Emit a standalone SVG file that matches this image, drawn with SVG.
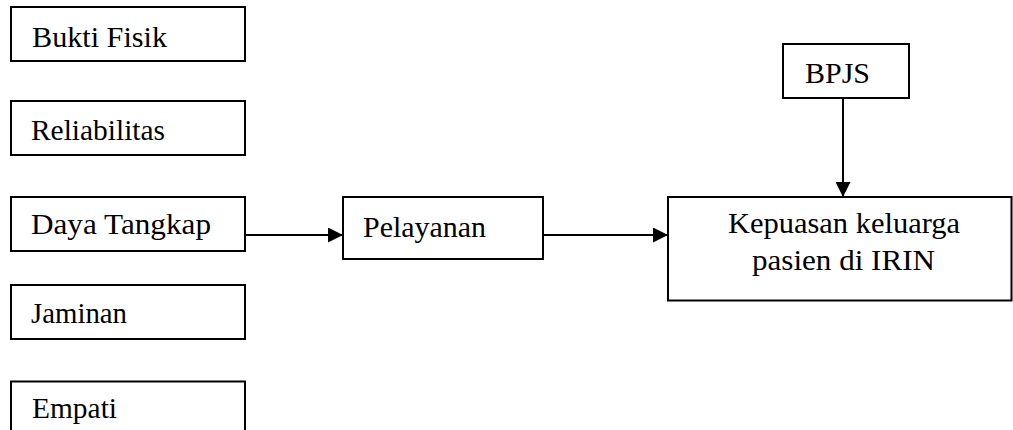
<svg xmlns="http://www.w3.org/2000/svg" width="1013" height="430" viewBox="0 0 1013 430">
<style>
.box{fill:#fff;stroke:#000;stroke-width:2}
.t{font-family:'Liberation Serif','Times New Roman',serif;font-size:30px;fill:#000}
.c{stroke:#000;stroke-width:2;fill:none}
</style>
<defs>
<marker id="ah" markerUnits="userSpaceOnUse" markerWidth="15" markerHeight="15" refX="14" refY="7" orient="auto" viewBox="0 0 14 14">
<path d="M0,0 L14,7 L0,14 Z" fill="#000"/>
</marker>
</defs>
<rect width="1013" height="430" fill="#fff"/>
<g id="bukti-fisik"><rect class="box" x="11" y="7" width="234" height="54"/><text class="t" x="32" y="47" textLength="135" lengthAdjust="spacingAndGlyphs">Bukti  Fisik</text></g>
<g id="reliabilitas"><rect class="box" x="11" y="101" width="234" height="54"/><text class="t" x="31" y="140" textLength="134" lengthAdjust="spacingAndGlyphs">Reliabilitas</text></g>
<g id="daya-tangkap"><rect class="box" x="11" y="197" width="234" height="54"/><text class="t" x="31" y="234" textLength="180" lengthAdjust="spacingAndGlyphs">Daya Tangkap</text></g>
<g id="jaminan"><rect class="box" x="11" y="285" width="234" height="54"/><text class="t" x="31" y="322.5" textLength="96" lengthAdjust="spacingAndGlyphs">Jaminan</text></g>
<g id="empati"><rect class="box" x="11" y="381.5" width="234" height="60"/><text class="t" x="32" y="418" textLength="85" lengthAdjust="spacingAndGlyphs">Empati</text></g>
<g id="pelayanan"><rect class="box" x="343" y="197" width="200" height="62"/><text class="t" x="363" y="236.5" textLength="123" lengthAdjust="spacingAndGlyphs">Pelayanan</text></g>
<g id="bpjs"><rect class="box" x="783" y="44" width="126" height="54"/><text class="t" x="805" y="83.3" textLength="65" lengthAdjust="spacingAndGlyphs">BPJS</text></g>
<g id="kepuasan"><rect class="box" x="668" y="197" width="343.5" height="103.5"/><text class="t" x="728" y="233" textLength="232" lengthAdjust="spacingAndGlyphs">Kepuasan keluarga</text><text class="t" x="752" y="270" textLength="183" lengthAdjust="spacingAndGlyphs">pasien di IRIN</text></g>
<g id="connectors">
<line class="c" x1="245" y1="235" x2="343" y2="235" marker-end="url(#ah)"/>
<line class="c" x1="543" y1="235" x2="668" y2="235" marker-end="url(#ah)"/>
<line class="c" x1="843" y1="98" x2="843" y2="197" marker-end="url(#ah)"/>
</g>
</svg>
